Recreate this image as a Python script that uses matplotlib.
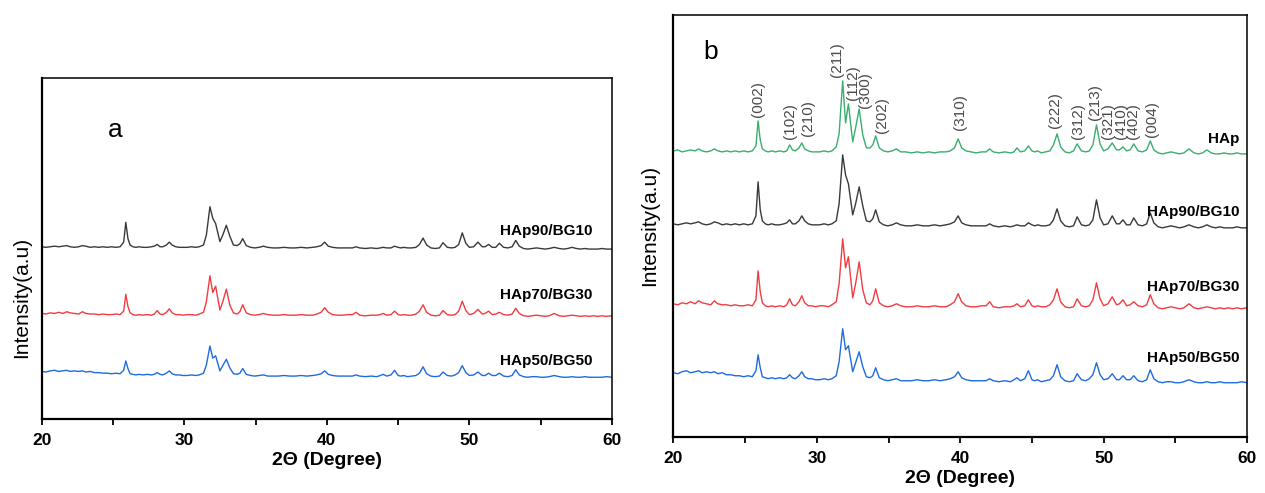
import numpy as np
import matplotlib
matplotlib.use('Agg')
import matplotlib.pyplot as plt
from matplotlib.ticker import MultipleLocator

plt.rcParams['font.family'] = ['Liberation Sans', 'DejaVu Sans']

# --- DATA (arbitrary intensity units) ---
two_theta = [
    20.0, 20.3, 20.6, 20.9, 21.2, 21.5, 21.75, 22.0, 22.3, 22.6,
    22.85, 23.1, 23.4, 23.7, 24.0, 24.3, 24.6, 24.9, 25.2, 25.5,
    25.75, 25.9, 26.05, 26.2, 26.4, 26.6, 26.85, 27.1, 27.4, 27.7,
    27.9, 28.1, 28.3, 28.5, 28.75, 28.95, 29.15, 29.4, 29.65, 29.9,
    30.2, 30.5, 30.8, 31.05, 31.35, 31.55, 31.8, 32.0, 32.2, 32.5,
    32.7, 32.95, 33.2, 33.45, 33.7, 33.9, 34.1, 34.35, 34.65, 34.95,
    35.25, 35.55, 35.85, 36.2, 36.6, 37.0, 37.4, 37.8, 38.2, 38.6,
    39.0, 39.3, 39.6, 39.85, 40.1, 40.4, 40.75, 41.1, 41.5, 41.8,
    42.05, 42.3, 42.7, 43.1, 43.5, 43.75, 43.95, 44.2, 44.5, 44.75,
    45.0, 45.2, 45.4, 45.65, 45.95, 46.25, 46.5, 46.75, 47.0, 47.3,
    47.6, 47.9, 48.15, 48.45, 48.75, 49.0, 49.25, 49.5, 49.75, 50.0,
    50.3, 50.6, 50.9, 51.1, 51.35, 51.6, 51.85, 52.1, 52.4, 52.7,
    53.0, 53.25, 53.5, 53.8, 54.1, 54.4, 54.7, 55.0, 55.3, 55.6,
    55.95, 56.3, 56.6, 56.9, 57.2, 57.5, 57.8, 58.1, 58.4, 58.7,
    59.0, 59.3, 59.6, 60.0,
]

hap = [
    10, 11, 9, 10, 11, 10, 12, 10, 9, 10,
    12, 10, 9, 10, 9, 10, 9, 10, 9, 10,
    15, 40, 21, 12, 10, 9, 10, 9, 10, 9,
    10, 16, 11, 10, 13, 18, 12, 10, 9, 9,
    9, 10, 9, 10, 14, 27, 80, 38, 57, 19,
    33, 52, 26, 13, 13, 16, 25, 13, 10, 9,
    10, 12, 9, 9, 8, 9, 8, 9, 8, 9,
    9, 10, 13, 22, 13, 10, 9, 8, 9, 9,
    12, 9, 8, 9, 8, 9, 13, 9, 10, 15,
    10, 9, 10, 8, 9, 10, 16, 27, 14, 9,
    8, 10, 17, 10, 9, 10, 16, 36, 17, 10,
    12, 18, 11, 11, 14, 10, 11, 17, 10, 9,
    11, 20, 11, 8, 7, 8, 9, 8, 7, 8,
    12, 8, 7, 8, 11, 8, 7, 7, 8, 7,
    7, 8, 7, 7,
]

hap90_bg10 = [
    10, 9, 10, 11, 10, 11, 12, 10, 9, 10,
    12, 11, 9, 10, 9, 10, 9, 10, 9, 10,
    18, 52, 24, 13, 10, 9, 10, 9, 9, 10,
    11, 14, 10, 10, 13, 18, 13, 10, 9, 9,
    9, 10, 9, 10, 13, 30, 79, 59, 50, 19,
    30, 47, 28, 13, 12, 15, 24, 12, 9, 8,
    9, 11, 9, 8, 8, 9, 8, 8, 9, 8,
    9, 10, 12, 18, 11, 9, 8, 8, 8, 8,
    10, 8, 7, 8, 7, 8, 9, 8, 8, 11,
    9, 8, 9, 8, 8, 9, 14, 25, 13, 8,
    7, 8, 17, 9, 8, 9, 14, 34, 16, 9,
    10, 18, 10, 10, 14, 9, 9, 16, 9, 8,
    10, 21, 11, 7, 6, 7, 8, 7, 6, 7,
    9, 7, 6, 7, 9, 7, 6, 7, 6, 6,
    6, 7, 6, 6,
]

hap70_bg30 = [
    10, 9, 11, 10, 12, 10, 13, 11, 10, 9,
    13, 10, 9, 9, 8, 9, 8, 8, 9, 8,
    14, 43, 22, 11, 8, 7, 8, 7, 8, 7,
    9, 15, 9, 8, 12, 18, 11, 8, 8, 7,
    8, 8, 7, 9, 12, 30, 75, 46, 57, 16,
    30, 52, 24, 11, 9, 13, 25, 11, 8, 7,
    8, 10, 8, 7, 7, 8, 7, 7, 8, 7,
    7, 9, 12, 20, 12, 8, 7, 7, 8, 8,
    12, 7, 6, 7, 7, 8, 10, 7, 8, 14,
    8, 7, 8, 7, 7, 9, 14, 25, 12, 7,
    6, 7, 15, 8, 7, 8, 14, 31, 15, 8,
    10, 17, 9, 10, 14, 8, 9, 12, 8, 7,
    9, 19, 10, 6, 5, 6, 7, 6, 5, 6,
    10, 6, 5, 6, 7, 6, 5, 6, 5, 6,
    5, 6, 5, 6,
]

hap50_bg50 = [
    16, 15, 17, 18, 16, 17, 18, 16, 17, 16,
    17, 15, 16, 14, 14, 13, 13, 12, 13, 12,
    18, 34, 21, 12, 11, 10, 11, 10, 11, 10,
    11, 14, 11, 10, 13, 17, 12, 10, 10, 9,
    9, 10, 9, 10, 13, 27, 60, 39, 43, 17,
    26, 37, 22, 12, 11, 13, 21, 11, 9, 8,
    9, 10, 8, 8, 8, 9, 8, 8, 9, 8,
    9, 10, 12, 17, 11, 9, 8, 8, 8, 8,
    10, 8, 7, 8, 7, 9, 11, 8, 10, 18,
    9, 8, 9, 7, 8, 9, 13, 24, 12, 8,
    7, 8, 15, 9, 8, 10, 14, 26, 14, 9,
    10, 15, 9, 9, 13, 9, 9, 13, 8, 7,
    9, 19, 10, 7, 6, 7, 7, 6, 6, 7,
    9, 7, 6, 6, 7, 6, 6, 7, 6, 6,
    6, 6, 7, 6,
]

hkl_labels = ['(002)', '(102)', '(210)', '(211)', '(112)', '(300)', '(202)', '(310)',
              '(222)', '(312)', '(213)', '(321)', '(410)', '(402)', '(004)']

# --- STYLE ---
GREEN = '#3aae6c'
BLACK = '#3a3a3a'
RED = '#f03c42'
BLUE = '#1f6be0'
LW = 1.0

fig = plt.figure(figsize=(12.65, 4.93), dpi=100)
ax_a = fig.add_axes([0.03296, 0.1501, 0.4508, 0.6917])
ax_b = fig.add_axes([0.5324, 0.1142, 0.4534, 0.8554])

x = np.array(two_theta)


def style_axis(ax):
    ax.set_xlim(20, 60)
    ax.set_xticks([20, 30, 40, 50, 60])
    ax.xaxis.set_minor_locator(MultipleLocator(5))
    ax.set_yticks([])
    ax.tick_params(axis='x', which='both', direction='out', length=4, width=1.3, pad=6, labelsize=12.5)
    for lbl in ax.get_xticklabels():
        lbl.set_fontweight('bold')
    for side in ['top', 'right']:
        ax.spines[side].set_linewidth(1.1)
    for side in ['left', 'bottom']:
        ax.spines[side].set_linewidth(1.6)
    ax.set_xlabel('2Θ (Degree)', fontsize=14, fontweight='bold', labelpad=3)


# --- PANEL a ---
ax_a.plot(x, np.array(hap90_bg10) + 287, color=BLACK, lw=LW)
ax_a.plot(x, np.array(hap70_bg30) + 172, color=RED, lw=LW)
ax_a.plot(x, np.array(hap50_bg50) + 66, color=BLUE, lw=LW)
ax_a.set_ylim(0, 588)
style_axis(ax_a)
ax_a.text(58.66, 325, 'HAp90/BG10', ha='right', va='center', fontsize=11, fontweight='bold')
ax_a.text(58.66, 213, 'HAp70/BG30', ha='right', va='center', fontsize=11, fontweight='bold')
ax_a.text(58.66, 100, 'HAp50/BG50', ha='right', va='center', fontsize=11, fontweight='bold')
ax_a.text(0.1285, 0.8475, 'a', transform=ax_a.transAxes, ha='center', va='center', fontsize=19)

# --- PANEL b ---
ax_b.plot(x, np.array(hap) + 276, color=GREEN, lw=LW)
ax_b.plot(x, np.array(hap90_bg10) + 203, color=BLACK, lw=LW)
ax_b.plot(x, np.array(hap70_bg30) + 123, color=RED, lw=LW)
ax_b.plot(x, np.array(hap50_bg50) + 48, color=BLUE, lw=LW)
ax_b.set_ylim(0, 422)
style_axis(ax_b)

label_x = [25.9, 28.1, 29.36, 31.38, 32.5, 33.35, 34.52, 39.98,
           46.6, 48.23, 49.39, 50.32, 51.2, 52.02, 53.35]
label_y = [320, 298, 301, 360, 337, 329, 304, 307,
           309, 298, 317, 298, 298, 298, 300]
for name, lx, ly in zip(hkl_labels, label_x, label_y):
    ax_b.text(lx, ly, name, rotation=90, ha='center', va='bottom', fontsize=11, color='#4a4a4a')

ax_b.text(59.5, 298, 'HAp', ha='right', va='center', fontsize=11, fontweight='bold')
ax_b.text(59.5, 225, 'HAp90/BG10', ha='right', va='center', fontsize=11, fontweight='bold')
ax_b.text(59.5, 150, 'HAp70/BG30', ha='right', va='center', fontsize=11, fontweight='bold')
ax_b.text(59.5, 79, 'HAp50/BG50', ha='right', va='center', fontsize=11, fontweight='bold')
ax_b.text(0.0655, 0.912, 'b', transform=ax_b.transAxes, ha='center', va='center', fontsize=19)

# y labels placed by hand, they sit at different heights in the two panels
fig.text(0.0174, 0.3976, 'Intensity(a.u)', rotation=90, ha='center', va='center', fontsize=15)
fig.text(0.5138, 0.5436, 'Intensity(a.u)', rotation=90, ha='center', va='center', fontsize=15)

plt.savefig('out.png', dpi=100)
plt.close()
